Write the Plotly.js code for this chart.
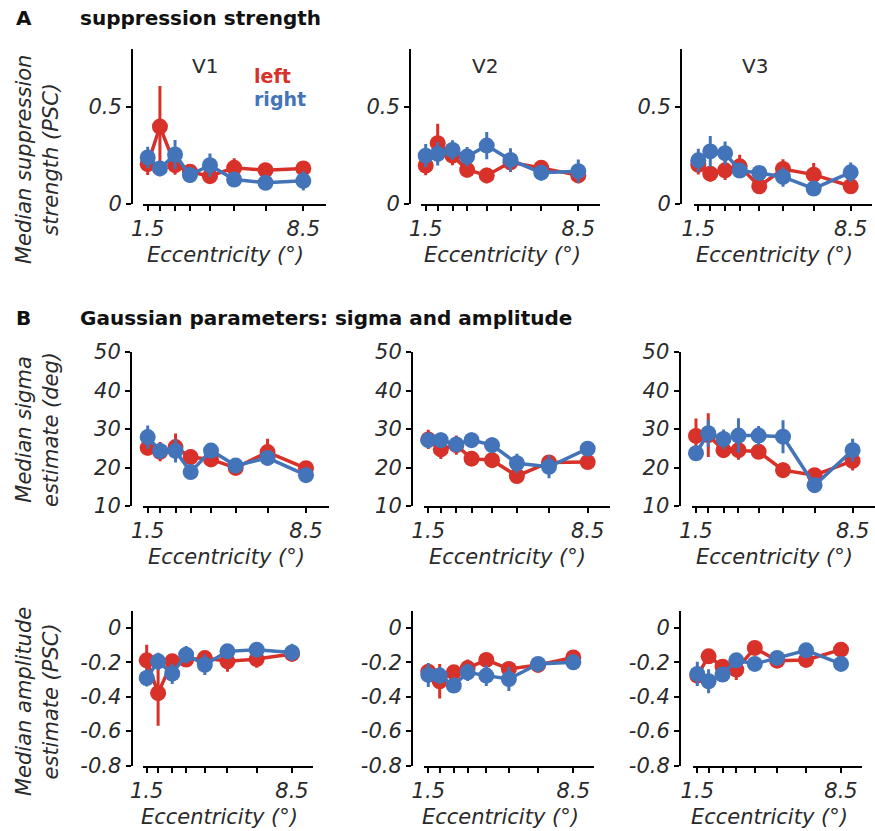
<!DOCTYPE html>
<html>
<head>
<meta charset="utf-8">
<script src="https://cdn.plot.ly/plotly-3.0.1.min.js"></script>
<style>
  html, body { margin: 0; padding: 0; background: #fff; }
  #chart { width: 875px; height: 831px; }
</style>
</head>
<body>
<div id="chart"></div>
<script>
// Eccentricity bins (deg) and tick labels
const ecc = [1.5, 2.05, 2.73, 3.4, 4.3, 5.39, 6.8, 8.5];
const eccLabels = ['1.5', '', '', '', '', '', '', '8.5'];

// A: median suppression strength (PSC)
const suppV1Left = [0.203, 0.397, 0.198, 0.164, 0.141, 0.184, 0.172, 0.181];
const suppV1LeftErr = [0.056, 0.21, 0.05, 0.035, 0.035, 0.05, 0.03, 0.025];
const suppV1Right = [0.238, 0.181, 0.253, 0.147, 0.198, 0.124, 0.107, 0.117];
const suppV1RightErr = [0.055, 0.04, 0.075, 0.04, 0.06, 0.03, 0.03, 0.05];

const suppV2Left = [0.196, 0.311, 0.247, 0.174, 0.145, 0.213, 0.184, 0.145];
const suppV2LeftErr = [0.05, 0.1, 0.05, 0.04, 0.04, 0.05, 0.04, 0.04];
const suppV2Right = [0.247, 0.256, 0.276, 0.242, 0.299, 0.225, 0.159, 0.167];
const suppV2RightErr = [0.06, 0.06, 0.05, 0.05, 0.07, 0.06, 0.04, 0.06];

const suppV3Left = [0.200, 0.154, 0.171, 0.192, 0.089, 0.178, 0.149, 0.089];
const suppV3LeftErr = [0.05, 0.04, 0.05, 0.06, 0.04, 0.05, 0.06, 0.04];
const suppV3Right = [0.223, 0.269, 0.260, 0.170, 0.158, 0.137, 0.077, 0.161];
const suppV3RightErr = [0.06, 0.08, 0.06, 0.03, 0.03, 0.05, 0.03, 0.05];

// B: median sigma estimate (deg)
const sigmaV1Left = [25.1, 24.1, 25.3, 22.7, 22.1, 19.9, 24.0, 19.8];
const sigmaV1LeftErr = [2, 2.5, 3.5, 2, 2, 1.5, 3.5, 1.5];
const sigmaV1Right = [27.9, 24.3, 24.3, 18.8, 24.4, 20.5, 22.5, 18.0];
const sigmaV1RightErr = [3, 2, 3, 1.5, 1.5, 1, 1.5, 1.5];

const sigmaV2Left = [27.3, 24.7, 25.8, 22.3, 21.9, 17.8, 21.3, 21.4];
const sigmaV2LeftErr = [2.5, 2.5, 2.5, 1, 1.5, 1.5, 1.5, 1];
const sigmaV2Right = [27.1, 27.1, 26.0, 27.1, 25.8, 21.1, 20.2, 24.9];
const sigmaV2RightErr = [1.5, 2, 2, 2, 2, 2.5, 3, 1];

const sigmaV3Left = [28.2, 28.4, 24.5, 24.5, 24.1, 19.3, 18.0, 21.7];
const sigmaV3LeftErr = [4.5, 5.7, 2, 2.5, 1.5, 2, 1.5, 2.5];
const sigmaV3Right = [23.7, 28.9, 27.4, 28.3, 28.3, 28.0, 15.4, 24.5];
const sigmaV3RightErr = [1, 3.5, 2.5, 4.5, 2.5, 4.3, 1.5, 3];

// B: median amplitude estimate (PSC)
const ampV1Left = [-0.188, -0.379, -0.194, -0.184, -0.175, -0.194, -0.181, -0.151];
const ampV1LeftErr = [0.09, 0.19, 0.04, 0.04, 0.03, 0.06, 0.05, 0.04];
const ampV1Right = [-0.291, -0.194, -0.266, -0.155, -0.214, -0.136, -0.126, -0.142];
const ampV1RightErr = [0.05, 0.05, 0.06, 0.05, 0.06, 0.04, 0.03, 0.05];

const ampV2Left = [-0.254, -0.31, -0.258, -0.233, -0.186, -0.238, -0.215, -0.171];
const ampV2LeftErr = [0.04, 0.1, 0.04, 0.05, 0.03, 0.03, 0.04, 0.03];
const ampV2Right = [-0.273, -0.277, -0.335, -0.258, -0.277, -0.297, -0.209, -0.2];
const ampV2RightErr = [0.07, 0.05, 0.03, 0.05, 0.06, 0.07, 0.03, 0.04];

const ampV3Left = [-0.277, -0.165, -0.225, -0.242, -0.116, -0.19, -0.186, -0.126];
const ampV3LeftErr = [0.05, 0.03, 0.04, 0.06, 0.04, 0.03, 0.04, 0.03];
const ampV3Right = [-0.267, -0.31, -0.271, -0.188, -0.209, -0.174, -0.13, -0.209];
const ampV3RightErr = [0.07, 0.07, 0.04, 0.03, 0.04, 0.03, 0.03, 0.03];

// Y tick values / labels per row
const suppTicks = [0, 0.5];
const suppTickText = ['0', '0.5'];
const sigmaTicks = [10, 20, 30, 40, 50];
const sigmaTickText = ['10', '20', '30', '40', '50'];
const ampTicks = [0, -0.2, -0.4, -0.6, -0.8];
const ampTickText = ['0', '-0.2', '-0.4', '-0.6', '-0.8'];

const areas = ['V1', 'V2', 'V3'];
const hemiNames = ['left', 'right'];

// ---------- styling / geometry ----------
const W = 875, H = 831;
const RED = '#d8312a';
const BLUE = '#4374b9';
const FONT = 'DejaVu Sans, Liberation Sans, Arial, sans-serif';
const TXT = '#2a2a2a';
const px = x => x / W;
const py = y => 1 - y / H;
const X_RANGE = [1.3, 9.5];

// per-row vertical placement: pixel of range bottom and top
const rows = [
  { range: [0, 0.8], yBottom: 203.5, yTop: 48.5, ticks: suppTicks, text: suppTickText,
    series: [[suppV1Left, suppV1LeftErr, suppV1Right, suppV1RightErr],
             [suppV2Left, suppV2LeftErr, suppV2Right, suppV2RightErr],
             [suppV3Left, suppV3LeftErr, suppV3Right, suppV3RightErr]] },
  { range: [10, 50], yBottom: 506, yTop: 352, ticks: sigmaTicks, text: sigmaTickText,
    series: [[sigmaV1Left, sigmaV1LeftErr, sigmaV1Right, sigmaV1RightErr],
             [sigmaV2Left, sigmaV2LeftErr, sigmaV2Right, sigmaV2RightErr],
             [sigmaV3Left, sigmaV3LeftErr, sigmaV3Right, sigmaV3RightErr]] },
  { range: [-0.8, 0.1], yBottom: 765.5, yTop: 610.8, ticks: ampTicks, text: ampTickText,
    series: [[ampV1Left, ampV1LeftErr, ampV1Right, ampV1RightErr],
             [ampV2Left, ampV2LeftErr, ampV2Right, ampV2RightErr],
             [ampV3Left, ampV3LeftErr, ampV3Right, ampV3RightErr]] }
];

// horizontal placement: pixel of the 1.5 and 8.5 ticks, and the y-axis line
const cols = [
  [ { a: 147.7, b: 303.3, yx: 132 }, { a: 425.7, b: 578.3, yx: 410 }, { a: 698.3, b: 850.7, yx: 681 } ],
  [ { a: 147.7, b: 306.0, yx: 131 }, { a: 428.3, b: 587.7, yx: 412 }, { a: 696.0, b: 853.3, yx: 679.5 } ],
  [ { a: 146.7, b: 292.0, yx: 131.5 }, { a: 428.3, b: 573.3, yx: 412 }, { a: 697.3, b: 841.0, yx: 680 } ]
];

const italicFont = { family: FONT, size: 21, color: TXT, style: 'italic' };

const traces = [];
const layout = {
  width: W, height: H,
  margin: { l: 0, r: 0, t: 0, b: 0 },
  paper_bgcolor: '#fff', plot_bgcolor: 'rgba(0,0,0,0)',
  showlegend: false,
  font: { family: FONT, color: TXT },
  annotations: []
};

let k = 0;
rows.forEach((row, r) => {
  row.series.forEach((s, c) => {
    k += 1;
    const g = cols[r][c];
    const ppu = (g.b - g.a) / 7;
    const x0 = g.a - (1.5 - X_RANGE[0]) * ppu;
    const x1 = g.b + (X_RANGE[1] - 8.5) * ppu;
    const sfx = k === 1 ? '' : String(k);
    const xa = 'x' + sfx, ya = 'y' + sfx;

    [[s[0], s[1], RED, hemiNames[0]], [s[2], s[3], BLUE, hemiNames[1]]].forEach(([vals, errs, col, nm]) => {
      traces.push({
        type: 'scatter', mode: 'lines+markers', name: nm,
        x: ecc, y: vals, xaxis: xa, yaxis: ya,
        line: { color: col, width: 3.5 },
        marker: { color: col, size: 16 },
        error_y: { type: 'data', array: errs, visible: true, color: col, thickness: 3, width: 0 },
        cliponaxis: false, hoverinfo: 'skip'
      });
    });

    layout['xaxis' + sfx] = {
      domain: [px(x0), px(x1)], range: X_RANGE, anchor: ya,
      showgrid: false, zeroline: false, showline: true, linecolor: '#000', linewidth: 2,
      ticks: 'outside', ticklen: 5, tickwidth: 2, tickcolor: '#000',
      tickmode: 'array', tickvals: ecc, ticktext: eccLabels, tickfont: italicFont,
      fixedrange: true
    };
    layout['yaxis' + sfx] = {
      domain: [py(row.yBottom), py(row.yTop)], range: row.range,
      anchor: 'free', position: px(g.yx),
      showgrid: false, zeroline: false, showline: true, linecolor: '#000', linewidth: 2,
      ticks: 'outside', ticklen: 5, tickwidth: 2, tickcolor: '#000',
      tickmode: 'array', tickvals: row.ticks, ticktext: row.text, tickfont: italicFont,
      fixedrange: true
    };

    // x-axis title under each panel
    layout.annotations.push({
      xref: 'paper', yref: 'paper', x: px((g.a + g.b) / 2), y: py(row.yBottom + 51),
      text: 'Eccentricity (°)', showarrow: false, xanchor: 'center', yanchor: 'middle',
      font: italicFont
    });
  });
});

// area names
const areaPos = [[205, 66], [485, 66], [755, 66]];
areas.forEach((a, i) => layout.annotations.push({
  xref: 'paper', yref: 'paper', x: px(areaPos[i][0]), y: py(areaPos[i][1]),
  text: a, showarrow: false, xanchor: 'center', yanchor: 'middle',
  font: { family: FONT, size: 20, color: TXT }
}));

// hemifield key
layout.annotations.push(
  { xref: 'paper', yref: 'paper', x: px(252), y: py(76), text: '<b>left</b>', showarrow: false,
    xanchor: 'left', yanchor: 'middle', font: { family: FONT, size: 19, color: RED } },
  { xref: 'paper', yref: 'paper', x: px(252), y: py(99), text: '<b>right</b>', showarrow: false,
    xanchor: 'left', yanchor: 'middle', font: { family: FONT, size: 19, color: BLUE } }
);

// section headings
const head = (x, y, t) => ({
  xref: 'paper', yref: 'paper', x: px(x), y: py(y), text: '<b>' + t + '</b>', showarrow: false,
  xanchor: 'left', yanchor: 'middle', font: { family: FONT, size: 20, color: '#111' }
});
layout.annotations.push(
  head(14, 18, 'A'), head(78, 18, 'suppression strength'),
  head(14, 318, 'B'), head(78, 318, 'Gaussian parameters: sigma and amplitude')
);

// y-axis titles (first column only)
const yTitles = [
  ['Median suppression<br>strength (PSC)', 160],
  ['Median sigma<br>estimate (deg)', 430],
  ['Median amplitude<br>estimate (PSC)', 702]
];
yTitles.forEach(([t, y]) => layout.annotations.push({
  xref: 'paper', yref: 'paper', x: px(37), y: py(y), text: t, showarrow: false,
  textangle: -90, xanchor: 'center', yanchor: 'middle',
  font: italicFont
}));

Plotly.newPlot('chart', traces, layout, { staticPlot: true, displayModeBar: false });
</script>
</body>
</html>
